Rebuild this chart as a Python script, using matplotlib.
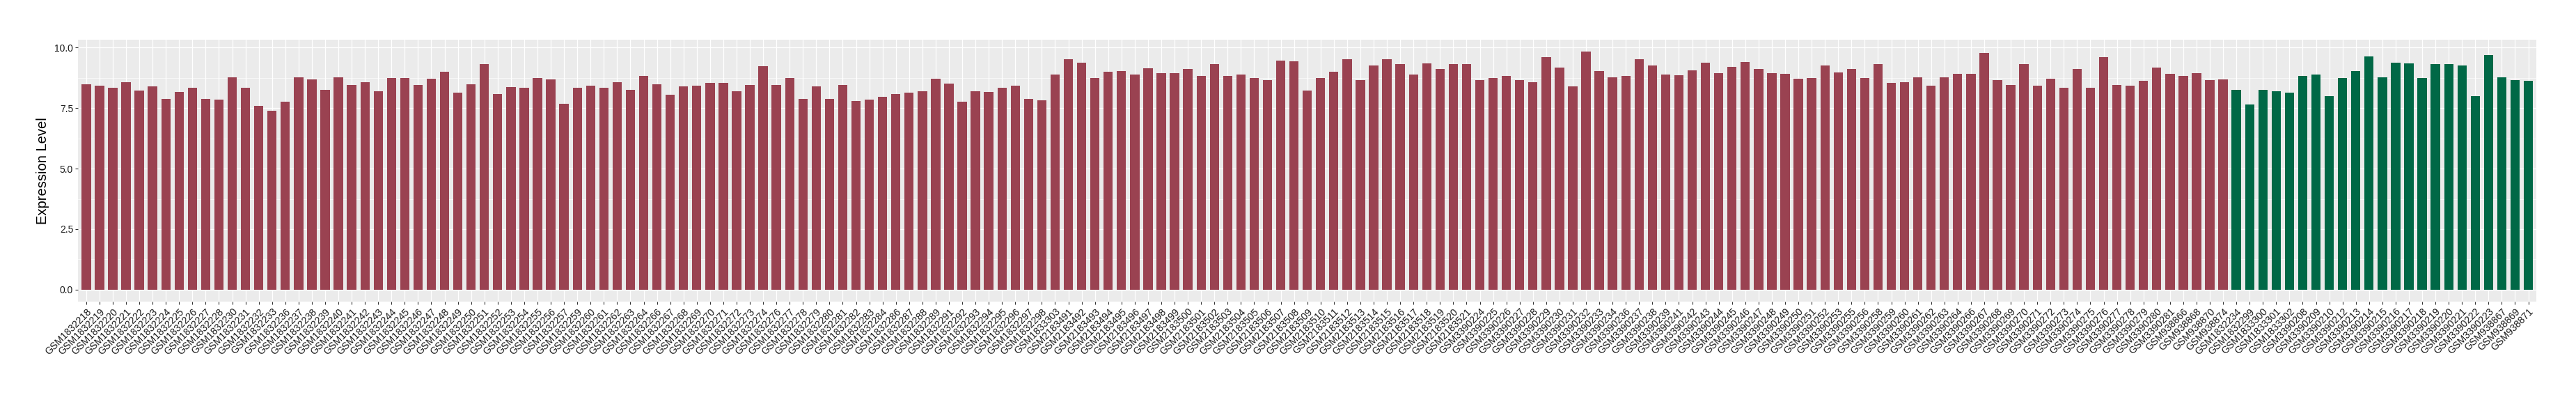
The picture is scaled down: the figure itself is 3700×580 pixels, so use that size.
import matplotlib
matplotlib.use("Agg")
import matplotlib.pyplot as plt
from matplotlib.ticker import MultipleLocator
import numpy as np

plt.rcParams['font.family'] = ['Liberation Sans', 'DejaVu Sans']

# ---- data ----
group1_samples = [
    "GSM1832218", "GSM1832219", "GSM1832220", "GSM1832221", "GSM1832222", "GSM1832223",
    "GSM1832224", "GSM1832225", "GSM1832226", "GSM1832227", "GSM1832228", "GSM1832230",
    "GSM1832231", "GSM1832232", "GSM1832233", "GSM1832236", "GSM1832237", "GSM1832238",
    "GSM1832239", "GSM1832240", "GSM1832241", "GSM1832242", "GSM1832243", "GSM1832244",
    "GSM1832245", "GSM1832246", "GSM1832247", "GSM1832248", "GSM1832249", "GSM1832250",
    "GSM1832251", "GSM1832252", "GSM1832253", "GSM1832254", "GSM1832255", "GSM1832256",
    "GSM1832257", "GSM1832259", "GSM1832260", "GSM1832261", "GSM1832262", "GSM1832263",
    "GSM1832264", "GSM1832266", "GSM1832267", "GSM1832268", "GSM1832269", "GSM1832270",
    "GSM1832271", "GSM1832272", "GSM1832273", "GSM1832274", "GSM1832276", "GSM1832277",
    "GSM1832278", "GSM1832279", "GSM1832280", "GSM1832281", "GSM1832282", "GSM1832283",
    "GSM1832284", "GSM1832286", "GSM1832287", "GSM1832288", "GSM1832289", "GSM1832291",
    "GSM1832292", "GSM1832293", "GSM1832294", "GSM1832295", "GSM1832296", "GSM1832297",
    "GSM1832298", "GSM1833303", "GSM2183491", "GSM2183492", "GSM2183493", "GSM2183494",
    "GSM2183495", "GSM2183496", "GSM2183497", "GSM2183498", "GSM2183499", "GSM2183500",
    "GSM2183501", "GSM2183502", "GSM2183503", "GSM2183504", "GSM2183505", "GSM2183506",
    "GSM2183507", "GSM2183508", "GSM2183509", "GSM2183510", "GSM2183511", "GSM2183512",
    "GSM2183513", "GSM2183514", "GSM2183515", "GSM2183516", "GSM2183517", "GSM2183518",
    "GSM2183519", "GSM2183520", "GSM2183521", "GSM3390224", "GSM3390225", "GSM3390226",
    "GSM3390227", "GSM3390228", "GSM3390229", "GSM3390230", "GSM3390231", "GSM3390232",
    "GSM3390233", "GSM3390234", "GSM3390236", "GSM3390237", "GSM3390238", "GSM3390239",
    "GSM3390241", "GSM3390242", "GSM3390243", "GSM3390244", "GSM3390245", "GSM3390246",
    "GSM3390247", "GSM3390248", "GSM3390249", "GSM3390250", "GSM3390251", "GSM3390252",
    "GSM3390253", "GSM3390255", "GSM3390256", "GSM3390258", "GSM3390259", "GSM3390260",
    "GSM3390261", "GSM3390262", "GSM3390263", "GSM3390264", "GSM3390266", "GSM3390267",
    "GSM3390268", "GSM3390269", "GSM3390270", "GSM3390271", "GSM3390272", "GSM3390273",
    "GSM3390274", "GSM3390275", "GSM3390276", "GSM3390277", "GSM3390278", "GSM3390279",
    "GSM3390280", "GSM3390281", "GSM938866", "GSM938868", "GSM938870", "GSM938874",
]
group1_values = [
    8.50, 8.43, 8.35, 8.58, 8.24, 8.41, 7.89, 8.18, 8.35, 7.89, 7.86, 8.79,
    8.35, 7.60, 7.40, 7.77, 8.79, 8.70, 8.26, 8.79, 8.47, 8.58, 8.21, 8.75,
    8.75, 8.47, 8.73, 9.02, 8.15, 8.50, 9.31, 8.09, 8.38, 8.33, 8.75, 8.70,
    7.69, 8.33, 8.43, 8.33, 8.58, 8.26, 8.82, 8.50, 8.06, 8.41, 8.43, 8.55,
    8.55, 8.21, 8.47, 9.24, 8.47, 8.75, 7.89, 8.41, 7.89, 8.47, 7.81, 7.86,
    7.98, 8.09, 8.13, 8.21, 8.73, 8.53, 7.77, 8.21, 8.18, 8.33, 8.43, 7.89,
    7.84, 8.90, 9.53, 9.39, 8.75, 9.02, 9.04, 8.90, 9.16, 8.96, 8.96, 9.11,
    8.82, 9.33, 8.84, 8.90, 8.75, 8.67, 9.48, 9.45, 8.24, 8.75, 9.02, 9.53,
    8.67, 9.28, 9.53, 9.33, 8.90, 9.36, 9.13, 9.31, 9.33, 8.67, 8.75, 8.84,
    8.67, 8.58, 9.60, 9.19, 8.41, 9.85, 9.04, 8.79, 8.84, 9.53, 9.28, 8.90,
    8.87, 9.07, 9.39, 8.96, 9.21, 9.41, 9.11, 8.96, 8.92, 8.73, 8.75, 9.28,
    8.99, 9.13, 8.75, 9.33, 8.55, 8.58, 8.79, 8.43, 8.79, 8.92, 8.92, 9.77,
    8.67, 8.47, 9.31, 8.43, 8.73, 8.33, 9.13, 8.33, 9.60, 8.47, 8.43, 8.64,
    9.19, 8.92, 8.82, 8.96, 8.67, 8.70,
]
group2_samples = [
    "GSM1832234", "GSM1832299", "GSM1833300", "GSM1833301", "GSM1833302", "GSM3390208",
    "GSM3390209", "GSM3390210", "GSM3390212", "GSM3390213", "GSM3390214", "GSM3390215",
    "GSM3390216", "GSM3390217", "GSM3390218", "GSM3390219", "GSM3390220", "GSM3390221",
    "GSM3390222", "GSM3390223", "GSM938867", "GSM938869", "GSM938871",
]
group2_values = [
    8.26, 7.66, 8.26, 8.21, 8.13, 8.82, 8.90, 8.01, 8.75, 9.04, 9.65, 8.79,
    9.39, 9.36, 8.75, 9.31, 9.31, 9.28, 8.01, 9.70, 8.79, 8.67, 8.62,
]
group_colors = ["#9A4251", "#006846"]
y_label = "Expression Level"

# ---- figure ----
W, H, DPI = 3700, 580, 100
fig = plt.figure(figsize=(W / DPI, H / DPI), dpi=DPI)
ax = fig.add_axes([112.4 / W, 1 - 432.9 / H, (3643 - 112.4) / W, (432.9 - 56.6) / H])

labels = group1_samples + group2_samples
values = group1_values + group2_values
colors = [group_colors[0]] * len(group1_values) + [group_colors[1]] * len(group2_values)
x = np.arange(1, len(labels) + 1)

ax.set_facecolor("#EBEBEB")
for s in ax.spines.values():
    s.set_visible(False)

ax.bar(x, values, width=0.7, color=colors, zorder=3)

ymax = max(values)
ax.set_ylim(-0.05 * ymax, ymax * 1.05)
ax.set_xlim(0.4, len(labels) + 0.6)

ax.yaxis.set_major_locator(MultipleLocator(2.5))
ax.yaxis.set_minor_locator(MultipleLocator(1.25))
ax.set_yticks([0, 2.5, 5.0, 7.5, 10.0])
ax.set_yticklabels(["0.0", "2.5", "5.0", "7.5", "10.0"])
ax.set_xticks(x)
ax.set_xticklabels(labels, rotation=45, ha="right", va="top", rotation_mode="anchor")

ax.grid(which="major", axis="both", color="white", linewidth=0.9, zorder=0)
ax.grid(which="minor", axis="y", color="white", linewidth=0.45, zorder=0)
ax.set_axisbelow(True)
ax.tick_params(axis="x", which="minor", bottom=False)
ax.tick_params(axis="y", which="minor", left=False)
ax.tick_params(axis="both", which="major", length=2.7, width=0.8, color="#333333",
               labelcolor="#1a1a1a", pad=2.5)
ax.tick_params(axis="x", labelsize=10.2)
ax.tick_params(axis="y", labelsize=10.0)

ax.set_ylabel(y_label, fontsize=14.5, color="black", labelpad=5)

fig.savefig("out.png", dpi=DPI)
